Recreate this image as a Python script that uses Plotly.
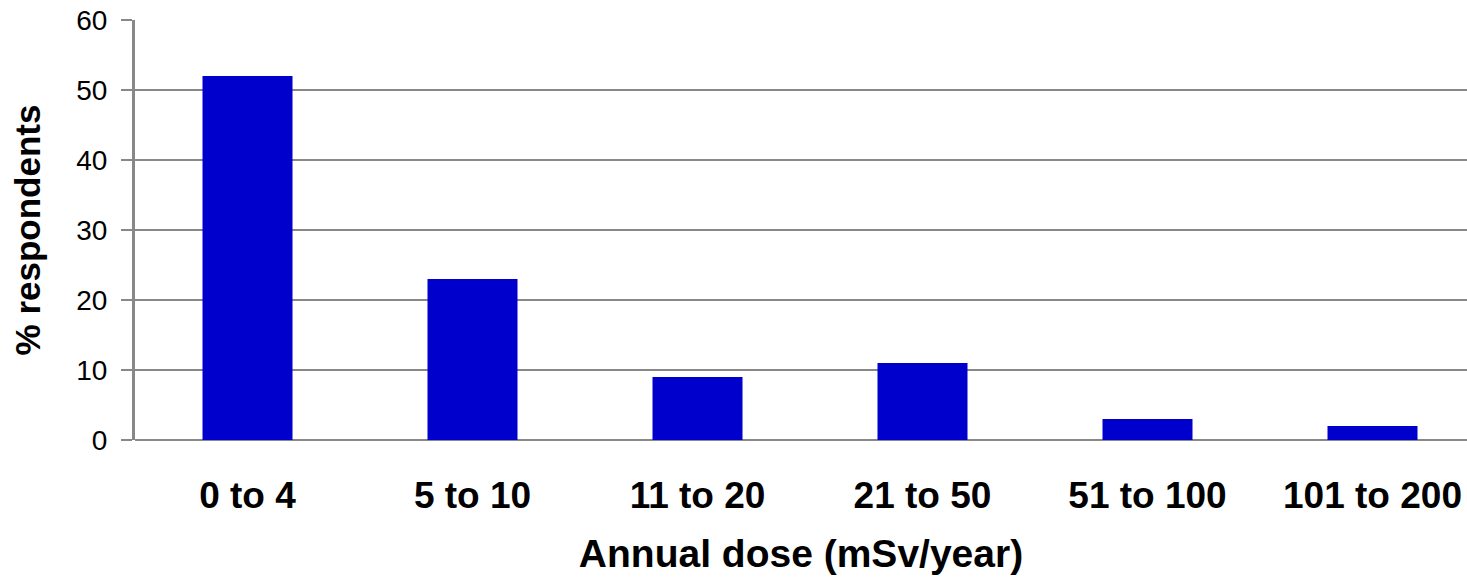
import plotly.graph_objects as go

# dose bands and share of respondents
categories = ["0 to 4", "5 to 10", "11 to 20", "21 to 50", "51 to 100", "101 to 200"]
percent = [52, 23, 9, 11, 3, 2]
y_ticks = [0, 10, 20, 30, 40, 50, 60]

fig = go.Figure()
fig.add_trace(go.Bar(x=categories, y=percent, marker=dict(color="#0000CC", line=dict(width=0))))

fig.update_layout(
    width=1467, height=577,
    margin=dict(l=135, r=0, t=20, b=137),
    plot_bgcolor="white", paper_bgcolor="white",
    bargap=0.6, showlegend=False,
    font=dict(family="Liberation Sans, Arial", color="black"),
)
# last category runs past the right edge, like the original
fig.update_xaxes(
    range=[-0.5, 5.42], automargin=False,
    showgrid=False, showline=False, ticks="",
    tickfont=dict(size=37, weight="bold"),
    ticklabelstandoff=30,
    title=dict(text="Annual dose (mSv/year)", font=dict(size=39, weight="bold"), standoff=24),
)
fig.update_yaxes(
    range=[0, 60], tickvals=y_ticks, automargin=False,
    showgrid=True, gridcolor="#888888", gridwidth=2,
    showline=True, linecolor="#888888", linewidth=3,
    ticks="outside", ticklen=11, tickcolor="#888888", tickwidth=2,
    tickfont=dict(size=28),
    ticklabelstandoff=8, ticklabeloverflow="allow",
    zeroline=True, zerolinecolor="#888888", zerolinewidth=2,
    title=dict(text="% respondents", font=dict(size=35, weight="bold"), standoff=25),
)

# drop the default 8px page margin so the figure sits at the window corner
fig.write_html("out.html", config={"displayModeBar": False},
               post_script="document.body.style.margin='0';")
